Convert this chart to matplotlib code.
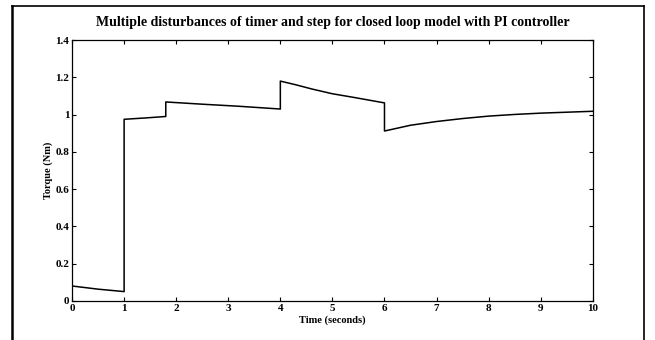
import matplotlib.pyplot as plt
from matplotlib.lines import Line2D

# values (steps repeat the time value)
time = [0.0, 0.5, 1.0, 1.0, 1.4, 1.8, 1.8, 2.5, 3.2, 4.0, 4.0, 4.3, 4.6, 5.0, 5.4,
        5.7, 6.0, 6.0, 6.5, 7.0, 7.5, 8.0, 8.5, 9.0, 9.5, 10.0]
torque = [0.08, 0.063, 0.05, 0.975, 0.982, 0.99, 1.068, 1.056, 1.045, 1.03, 1.18, 1.16,
          1.138, 1.112, 1.093, 1.078, 1.063, 0.912, 0.943, 0.963, 0.979, 0.992, 1.001,
          1.008, 1.013, 1.018]

xticks = [0, 1, 2, 3, 4, 5, 6, 7, 8, 9, 10]
yticks = [0, 0.2, 0.4, 0.6, 0.8, 1.0, 1.2, 1.4]
yticklabels = ['0', '0.2', '0.4', '0.6', '0.8', '1', '1.2', '1.4']

plt.rcParams['font.family'] = ['Liberation Serif', 'DejaVu Serif']

fig = plt.figure(figsize=(6.55, 3.4), dpi=100)
ax = fig.add_axes([0.110, 0.115, 0.795, 0.767])

ax.plot(time, torque, color='black', lw=1.1)
ax.set_xlim(0, 10)
ax.set_ylim(0, 1.4)
ax.set_xticks(xticks)
ax.set_yticks(yticks)
ax.set_yticklabels(yticklabels)
ax.tick_params(direction='in', top=True, right=True, length=3, width=0.8,
               labelsize=8, pad=2)
for lab in ax.get_xticklabels() + ax.get_yticklabels():
    lab.set_fontweight('bold')
for s in ax.spines.values():
    s.set_linewidth(0.9)

ax.set_title('Multiple disturbances of timer and step for closed loop model with PI controller',
             fontsize=10, fontweight='bold', pad=10)
ax.set_xlabel('Time (seconds)', fontsize=7.5, fontweight='bold', labelpad=2)
ax.set_ylabel('Torque (Nm)', fontsize=7.5, fontweight='bold', labelpad=2)

# scanned page frame around the figure
W, H = 655, 340
fig.add_artist(Line2D([12 / W, 12 / W], [0, 1 - 6 / H], color='black', lw=1.8))
fig.add_artist(Line2D([12 / W, 644 / W], [1 - 6 / H, 1 - 6 / H], color='black', lw=1.2))
fig.add_artist(Line2D([644 / W, 644 / W], [0, 1 - 6 / H], color='black', lw=1.2))

fig.savefig('out.png', dpi=100)
